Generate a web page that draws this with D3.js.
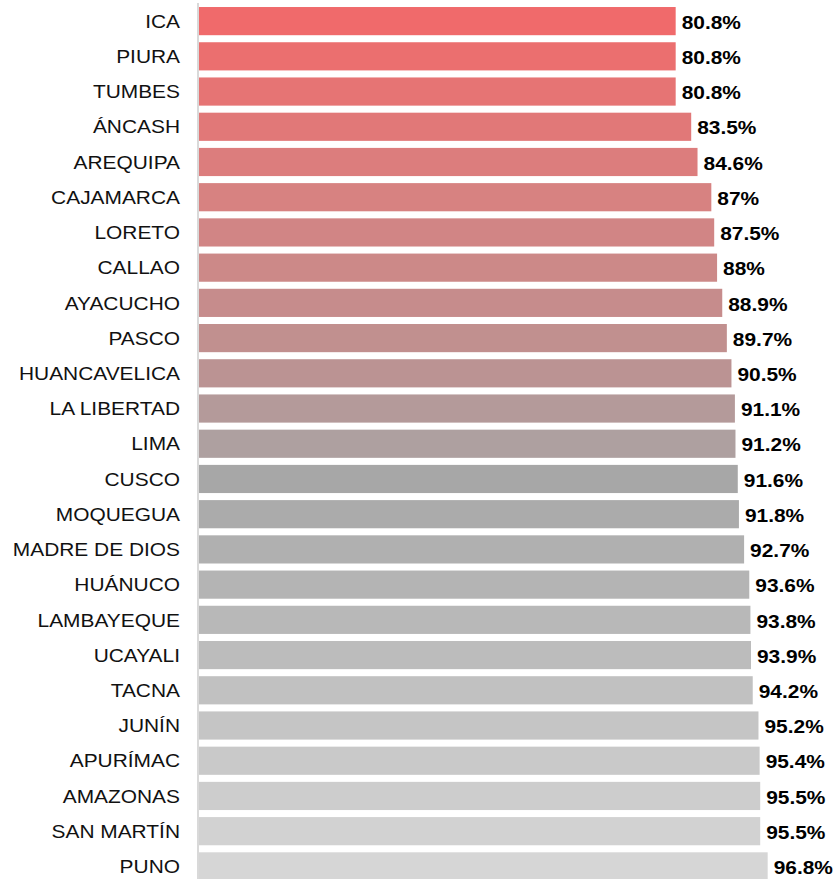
<!DOCTYPE html>
<html>
<head>
<meta charset="utf-8">
<script src="https://cdn.jsdelivr.net/npm/d3@7"></script>
<style>
  body { margin: 0; background: #fff; }
  text { font-family: "Liberation Sans", Arial, sans-serif; }
</style>
</head>
<body>
<div id="chart"></div>
<script>
// data
var regions = ["ICA", "PIURA", "TUMBES", "ÁNCASH", "AREQUIPA", "CAJAMARCA", "LORETO", "CALLAO",
  "AYACUCHO", "PASCO", "HUANCAVELICA", "LA LIBERTAD", "LIMA", "CUSCO", "MOQUEGUA",
  "MADRE DE DIOS", "HUÁNUCO", "LAMBAYEQUE", "UCAYALI", "TACNA", "JUNÍN", "APURÍMAC",
  "AMAZONAS", "SAN MARTÍN", "PUNO"];
var values = [80.8, 80.8, 80.8, 83.5, 84.6, 87, 87.5, 88, 88.9, 89.7, 90.5, 91.1, 91.2, 91.6,
  91.8, 92.7, 93.6, 93.8, 93.9, 94.2, 95.2, 95.4, 95.5, 95.5, 96.8];
var valueLabels = ["80.8%", "80.8%", "80.8%", "83.5%", "84.6%", "87%", "87.5%", "88%", "88.9%",
  "89.7%", "90.5%", "91.1%", "91.2%", "91.6%", "91.8%", "92.7%", "93.6%", "93.8%", "93.9%",
  "94.2%", "95.2%", "95.4%", "95.5%", "95.5%", "96.8%"];

var width = 835,
    height = 879,
    left = 199,
    stretch = 1.1;

var svg = d3.select("#chart").append("svg")
    .attr("width", width)
    .attr("height", height);

var x = d3.scaleLinear()
    .domain([-2.1, 100])
    .range([left, left + 102.1 * 5.75]);

var y = d3.scaleBand()
    .domain(regions)
    .range([3.5, 884])
    .paddingInner(0.2)
    .paddingOuter(0.1);

var color = d3.scaleLinear()
    .domain([0, 5, 10, 13, 24])
    .range(["#f06a6b", "#d78281", "#bb9393", "#a7a7a7", "#d6d6d6"]);

// bars
svg.selectAll("rect.bar")
    .data(regions)
    .enter().append("rect")
    .attr("class", "bar")
    .attr("x", x(-2.1))
    .attr("y", function(d) { return y(d); })
    .attr("width", function(d, i) { return x(values[i]) - x(-2.1); })
    .attr("height", y.bandwidth())
    .attr("fill", function(d, i) { return color(i); });

// axis line
svg.append("line")
    .attr("x1", left - 1)
    .attr("x2", left - 1)
    .attr("y1", 3)
    .attr("y2", height)
    .attr("stroke", "#d9d9d9")
    .attr("stroke-width", 2);

// category labels
svg.selectAll("text.cat")
    .data(regions)
    .enter().append("text")
    .attr("class", "cat")
    .attr("transform", function(d) {
      return "translate(180," + (y(d) + y.bandwidth() / 2) + ") scale(" + stretch + ",1)";
    })
    .attr("text-anchor", "end")
    .attr("dy", "0.35em")
    .attr("font-size", 19)
    .attr("fill", "#111")
    .text(function(d) { return d; });

// value labels
svg.selectAll("text.val")
    .data(regions)
    .enter().append("text")
    .attr("class", "val")
    .attr("transform", function(d, i) {
      return "translate(" + (x(values[i]) + 6) + "," + (y(d) + y.bandwidth() / 2 + 1) + ") scale(" + stretch + ",1)";
    })
    .attr("dy", "0.35em")
    .attr("font-size", 19)
    .attr("font-weight", "bold")
    .attr("fill", "#000")
    .text(function(d, i) { return valueLabels[i]; });
</script>
</body>
</html>
